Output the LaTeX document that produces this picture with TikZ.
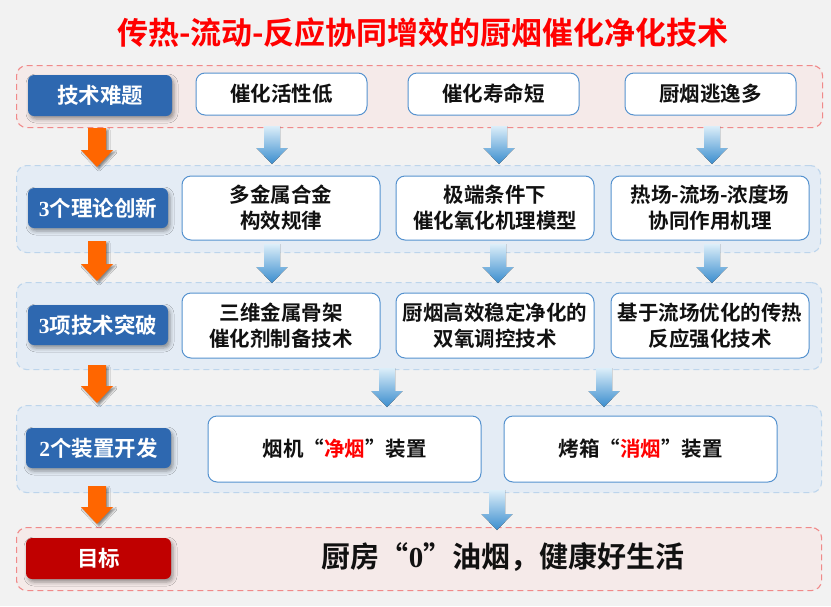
\documentclass[tikz,border=0pt]{standalone}
\usepackage{fontspec}
\newfontfamily\cjk{Noto Sans CJK SC}[UprightFont=* Bold]
\newfontfamily\tnr{Liberation Serif}[UprightFont=* Bold]
\usetikzlibrary{shadows.blur}
\definecolor{bgc}{HTML}{F2F2F2}
\definecolor{redrow}{HTML}{F08A8A}
\definecolor{redrowfill}{HTML}{F5EAE9}
\definecolor{bluerow}{HTML}{BDD5EC}
\definecolor{bluerowfill}{HTML}{E4ECF5}
\definecolor{labblue}{HTML}{2E68B0}
\definecolor{labred}{HTML}{C00000}
\definecolor{boxedge}{HTML}{5592CF}
\definecolor{atop}{HTML}{DCEEF9}
\definecolor{abot}{HTML}{3A8DCE}
\definecolor{orangec}{HTML}{FF6600}
\definecolor{titlered}{HTML}{FF0000}
\definecolor{txt}{HTML}{111111}
\newcommand\BlueArr[3]{\fill[top color=atop, bottom color=abot] (#1-8,#2) -- (#1+8,#2) -- (#1+8,#3-16) -- (#1+15.5,#3-16) -- (#1,#3) -- (#1-15.5,#3-16) -- (#1-8,#3-16) -- cycle;}
\newcommand\OrangeArr[3]{\fill[orangec, blur shadow={shadow xshift=2pt, shadow yshift=-2pt, shadow blur radius=2pt, shadow opacity=45}] (#1-9,#2) -- (#1+9,#2) -- (#1+9,#3-17) -- (#1+16,#3-17) -- (#1,#3) -- (#1-16,#3-17) -- (#1-9,#3-17) -- cycle;}
\tikzset{
  rowredbox/.style={draw=redrow, fill=redrowfill, dash pattern=on 6pt off 4pt, line width=1.1pt, rounded corners=10pt, anchor=north west, inner sep=0pt},
  rowbluebox/.style={draw=bluerow, fill=bluerowfill, dash pattern=on 6pt off 4pt, line width=1.1pt, rounded corners=10pt, anchor=north west, inner sep=0pt},
  labbox/.style={fill=labblue, rounded corners=6pt, text=white, inner sep=0pt, font=\fontsize{21.5}{26}\selectfont\cjk, blur shadow={shadow xshift=2pt, shadow yshift=-3pt, shadow blur radius=4pt, shadow opacity=40}},
  wbox/.style={draw=boxedge, fill=white, line width=1pt, rounded corners=9pt, inner sep=0pt, text=txt, align=center, font=\fontsize{20.5}{26}\selectfont\cjk},
}
\begin{document}
\begin{tikzpicture}[x=1pt,y=-1pt]
\fill[bgc] (0,0) rectangle (831,606);
\useasboundingbox (0,0) rectangle (831,606);

\node[text=titlered, font=\fontsize{31}{36}\selectfont\cjk] (title) at (423,33) {传热-流动-反应协同增效的厨烟催化净化技术};

% rows
\node[rowredbox, minimum width=806pt, minimum height=62pt] (r1) at (16,65) {};
\node[rowbluebox, minimum width=804pt, minimum height=87pt] (r2) at (16,165) {};
\node[rowbluebox, minimum width=805pt, minimum height=87pt] (r3) at (16,282) {};
\node[rowbluebox, minimum width=805pt, minimum height=87pt] (r4) at (16,405) {};
\node[rowredbox, minimum width=805pt, minimum height=63pt] (r5) at (16,527) {};

% labels
\node[labbox, minimum width=144pt, minimum height=41pt] (l1) at (100,95.5) {技术难题};
\node[labbox, minimum width=140pt, minimum height=40pt] (l2) at (98,208) {{\tnr 3}个理论创新};
\node[labbox, minimum width=140pt, minimum height=40pt] (l3) at (98,325) {{\tnr 3}项技术突破};
\node[labbox, minimum width=145pt, minimum height=40pt] (l4) at (98.5,448) {{\tnr 2}个装置开发};
\node[labbox, fill=labred, minimum width=145pt, minimum height=41pt] (l5) at (98.5,558.5) {目标};

% row 1
\node[wbox, minimum width=171pt, minimum height=42pt] (p1) at (281.5,94) {催化活性低};
\node[wbox, minimum width=171pt, minimum height=42pt] (p2) at (493.5,94) {催化寿命短};
\node[wbox, minimum width=171pt, minimum height=42pt] (p3) at (710.5,94) {厨烟逃逸多};

% row 2
\node[wbox, minimum width=198pt, minimum height=64pt] (t1) at (281,208) {多金属合金\\构效规律};
\node[wbox, minimum width=198pt, minimum height=64pt] (t2) at (495,208) {极端条件下\\催化氧化机理模型};
\node[wbox, minimum width=198pt, minimum height=64pt] (t3) at (710,208) {热场-流场-浓度场\\协同作用机理};

% row 3
\node[wbox, minimum width=198pt, minimum height=65pt] (b1) at (281,325.5) {三维金属骨架\\催化剂制备技术};
\node[wbox, minimum width=198pt, minimum height=65pt] (b2) at (495,325.5) {厨烟高效稳定净化的\\双氧调控技术};
\node[wbox, minimum width=198pt, minimum height=65pt] (b3) at (710,325.5) {基于流场优化的传热\\反应强化技术};

% row 4
\node[wbox, minimum width=273pt, minimum height=66pt] (d1) at (344.5,449) {烟机“{\color{titlered}净烟}”装置};
\node[wbox, minimum width=273pt, minimum height=66pt] (d2) at (640.5,449) {烤箱“{\color{titlered}消烟}”装置};

% goal
\node[text=txt, font=\fontsize{29}{34}\selectfont\cjk] (goal) at (503,557) {厨房“{\tnr 0}”油烟，健康好生活};

% blue arrows
\BlueArr{272}{126}{164}
\BlueArr{499}{126}{164}
\BlueArr{712}{126}{164}
\BlueArr{272}{244}{283}
\BlueArr{498}{244}{283}
\BlueArr{712}{244}{283}
\BlueArr{387}{368}{407}
\BlueArr{604}{368}{407}
\BlueArr{497}{490}{530}

% orange arrows
\OrangeArr{97}{128}{167}
\OrangeArr{97}{241}{281}
\OrangeArr{97}{365}{403}
\OrangeArr{97}{486}{524}
\end{tikzpicture}
\end{document}
